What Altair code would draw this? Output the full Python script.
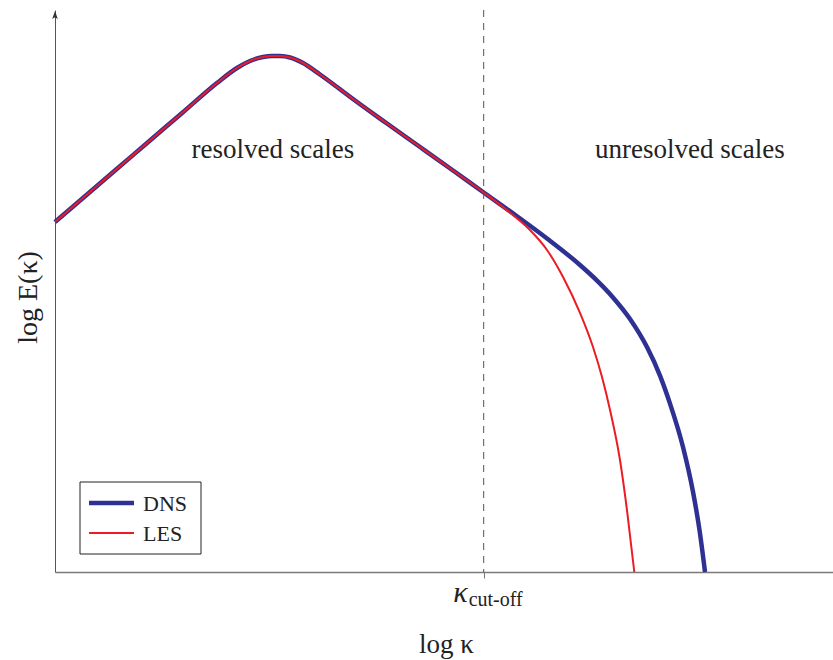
import altair as alt
import pandas as pd

# ---- data (log-log units) ----
x_shared = [0.000, 0.360, 0.797, 1.221, 1.645, 2.082, 2.339, 2.506, 2.674, 2.789, 2.892, 3.021,
            3.188, 3.406, 3.625, 3.830, 4.267, 4.692, 5.116, 5.501]
y_shared = [6.228, 6.655, 7.174, 7.678, 8.181, 8.701, 8.968, 9.093, 9.164, 9.181, 9.180, 9.155,
            9.057, 8.852, 8.630, 8.416, 7.980, 7.562, 7.144, 6.762]

x_dns_tail = [5.887, 6.324, 6.748, 6.967, 7.172, 7.391, 7.609, 7.776, 7.905, 8.072, 8.201, 8.284, 8.355]
y_dns_tail = [6.381, 5.934, 5.463, 5.185, 4.886, 4.502, 4.002, 3.495, 2.996, 2.224, 1.423, 0.747, 0.000]

x_les_tail = [5.887, 6.105, 6.324, 6.530, 6.748, 6.915, 7.031, 7.134, 7.262, 7.352, 7.446]
y_les_tail = [6.352, 6.085, 5.730, 5.249, 4.609, 4.004, 3.470, 2.883, 1.993, 1.103, 0.000]

cutoff = 5.51
series_names = ["DNS", "LES"]
series_colors = ["#2e3192", "#ed1c24"]
series_widths = [4.5, 2.0]

region_labels = ["resolved scales", "unresolved scales"]
region_x = [2.80, 8.16]
region_y = [7.51, 7.51]

FONT = "Liberation Serif"
TXT = "#222222"

dns = pd.DataFrame({"x": x_shared + x_dns_tail, "y": y_shared + y_dns_tail})
les = pd.DataFrame({"x": x_shared + x_les_tail, "y": y_shared + y_les_tail})

xs = alt.Scale(domain=[0, 10], nice=False, zero=False)
ys = alt.Scale(domain=[0, 10], nice=False, zero=False)

x_axis = alt.Axis(values=[cutoff], labels=False, ticks=True, tickSize=6, tickColor="#777777",
                  domainColor="#7a7a7a", domainWidth=1.5, grid=False,
                  title="log κ", titleFont=FONT, titleFontSize=27, titleFontWeight="normal",
                  titleColor=TXT, titleX=391, titleY=80, titleBaseline="alphabetic", titleAlign="center")
y_axis = alt.Axis(values=[], labels=False, ticks=False, grid=False,
                  domainColor="#555555", domainWidth=1,
                  title="log E(κ)", titleFont=FONT, titleFontSize=28, titleFontWeight="normal",
                  titleColor=TXT, titleX=-19, titleY=287, titleAngle=-90,
                  titleBaseline="alphabetic", titleAlign="center")

line_dns = alt.Chart(dns).mark_line(color=series_colors[0], strokeWidth=series_widths[0],
                                    interpolate="monotone").encode(
    x=alt.X("x:Q", scale=xs, axis=x_axis),
    y=alt.Y("y:Q", scale=ys, axis=y_axis),
)
line_les = alt.Chart(les).mark_line(color=series_colors[1], strokeWidth=series_widths[1],
                                    interpolate="monotone").encode(
    x=alt.X("x:Q", scale=xs),
    y=alt.Y("y:Q", scale=ys),
)

cut_df = pd.DataFrame({"x": [cutoff]})
cut_rule = alt.Chart(cut_df).mark_rule(color="#555555", strokeWidth=1, strokeDash=[7, 6]).encode(
    x=alt.X("x:Q", scale=xs)
)
kappa = alt.Chart(cut_df).mark_text(text="κ", font=FONT, fontSize=30, fontStyle="italic",
                                    color=TXT, align="right", baseline="alphabetic", dx=-16).encode(
    x=alt.X("x:Q", scale=xs), y=alt.value(592)
)
cutlab = alt.Chart(cut_df).mark_text(text="cut-off", font=FONT, fontSize=20,
                                     color=TXT, align="left", baseline="alphabetic", dx=-15).encode(
    x=alt.X("x:Q", scale=xs), y=alt.value(596)
)

reg_df = pd.DataFrame({"label": region_labels, "x": region_x, "y": region_y})
regions = alt.Chart(reg_df).mark_text(font=FONT, fontSize=27, color=TXT, baseline="middle").encode(
    x=alt.X("x:Q", scale=xs), y=alt.Y("y:Q", scale=ys), text="label:N"
)

arrow = alt.Chart(cut_df).mark_point(shape="M0,-1L0.7,1L0,0.55L-0.7,1Z", size=64, filled=True,
                                     color="#333333", opacity=1).encode(
    x=alt.value(0), y=alt.value(5)
)

# legend (manual box)
leg_box = alt.Chart(cut_df).mark_rect(fill="white", stroke="#222222", strokeWidth=1).encode(
    x=alt.value(25), x2=alt.value(146), y=alt.value(472), y2=alt.value(544)
)
leg_layers = [leg_box]
for i, (name, col, w) in enumerate(zip(series_names, series_colors, series_widths)):
    yy = 493 + 30 * i
    leg_layers.append(alt.Chart(cut_df).mark_rule(color=col, strokeWidth=w).encode(
        x=alt.value(34), x2=alt.value(79), y=alt.value(yy)))
    leg_layers.append(alt.Chart(cut_df).mark_text(text=name, font=FONT, fontSize=22, color=TXT,
                                                  align="left", baseline="middle").encode(
        x=alt.value(88), y=alt.value(yy + 1)))

chart = alt.layer(line_dns, line_les, cut_rule, kappa, cutlab, regions, arrow, *leg_layers).properties(
    width=778, height=562,
    padding={"left": 55, "top": 10, "right": 0, "bottom": 88},
    autosize="none",
    background="white",
).configure_view(stroke=None)

chart.save("out.html", embed_options={"renderer": "svg", "actions": False})
